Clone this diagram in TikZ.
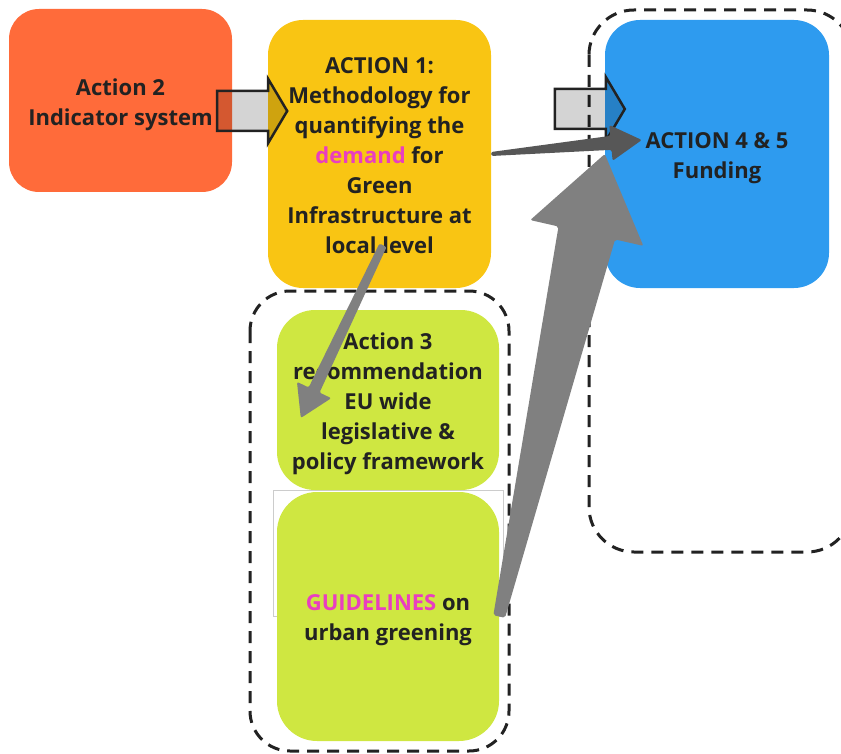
\documentclass[tikz,border=0pt]{standalone}
\usepackage{fontspec}
\setmainfont{Open Sans}
\usetikzlibrary{calc}
\definecolor{actorange}{HTML}{FF6B3A}
\definecolor{actyellow}{HTML}{F9C513}
\definecolor{actblue}{HTML}{2E9BEF}
\definecolor{actgreen}{HTML}{CFE741}
\definecolor{actpink}{HTML}{E93EC0}
\definecolor{ink}{HTML}{222222}
\definecolor{arrgray}{HTML}{808080}
\definecolor{arrdark}{HTML}{575757}

\tikzset{
  box/.style={rounded corners=#1, inner sep=0pt},
  box/.default=35pt,
  boxtext/.style={inner sep=0pt, align=center, text=ink, yshift=-4pt,
    font=\bfseries\fontsize{22}{30}\selectfont},
  group/.style={draw=ink, line width=3pt, dash pattern=on 12pt off 8pt},
  blockarr/.style={draw=ink, line width=2.5pt, fill=black, fill opacity=0.17, line join=miter},
}

% block arrow starting at the middle of its tail
\newcommand{\blockarrow}[1]{%
  \draw[blockarr] (#1) ++(0,-20) -- ++(51,0) -- ++(0,-12) -- ++(19,32)
    -- ++(-19,32) -- ++(0,-12) -- ++(-51,0) -- cycle;}

% tapered arrow: style, tail, tip, tail half width, shaft half width, head half width, head length
\newcommand{\taperarrow}[7]{%
  \coordinate (tb) at ($(#3)!#7!(#2)$);
  \fill[#1, rounded corners=2pt] ($(#2)!#4!90:(#3)$) -- ($(tb)!#5!90:(#3)$)
    -- ($(tb)!#6!90:(#3)$) -- (#3) -- ($(tb)!#6!-90:(#3)$)
    -- ($(tb)!#5!-90:(#3)$) -- ($(#2)!#4!-90:(#3)$) -- cycle;}

\begin{document}
\begin{tikzpicture}[x=1pt, y=-1pt]
  \useasboundingbox (0,0) rectangle (841,754);

  \draw[gray!40, line width=1pt] (273,490) rectangle (503,616);

  \node[box=30pt, fill=actorange, minimum width=223pt, minimum height=183pt] (act2) at (120.5,100.5) {};
  \node[box, fill=actyellow, minimum width=223pt, minimum height=268pt] (act1) at (379.5,154) {};
  \node[box, fill=actblue, minimum width=224pt, minimum height=268pt] (act45) at (717,154) {};
  \node[box=38pt, fill=actgreen, minimum width=222pt, minimum height=180pt] (act3) at (388,400) {};
  \node[box=40pt, fill=actgreen, minimum width=222pt, minimum height=249pt] (guide) at (388,616.5) {};

  \node[boxtext] (act2txt) at (act2) {Action 2\\Indicator system};
  \node[boxtext, yshift=2pt] (act1txt) at (act1)
    {ACTION 1:\\Methodology for\\quantifying the\\{\color{actpink}demand} for\\Green\\Infrastructure at\\local level};
  \node[boxtext] (act45txt) at (act45) {ACTION 4 \& 5\\Funding};
  \node[boxtext] (act3txt) at (act3) {Action 3\\recommendation\\EU wide\\legislative \&\\policy framework};
  \node[boxtext] (guidetxt) at (guide) {{\color{actpink}GUIDELINES} on\\urban greening};

  % dashed groups
  \draw[group, rounded corners=40pt] (250,291) rectangle (509,751);
  \draw[group, rounded corners=45pt] (589,10) rectangle (852,552);

  \blockarrow{$(act2.east)+(-15,10.5)$}
  \blockarrow{$(act45.west)+(-50,-45)$}

  \coordinate (fundtip) at ($(act45.west)+(37,-14)$);
  \coordinate (lvl) at ($(act1.south)+(3.5,-43)$);
  \coordinate (rectip) at ($(act3.west)+(24,18)$);

  \taperarrow{arrdark}{act1.east}{fundtip}{2pt}{7pt}{18pt}{31pt}
  \taperarrow{arrgray}{lvl}{rectip}{4pt}{6pt}{19pt}{31pt}
  \taperarrow{arrgray}{guide.east}{act45.west}{6pt}{29pt}{58pt}{81pt}
\end{tikzpicture}
\end{document}
